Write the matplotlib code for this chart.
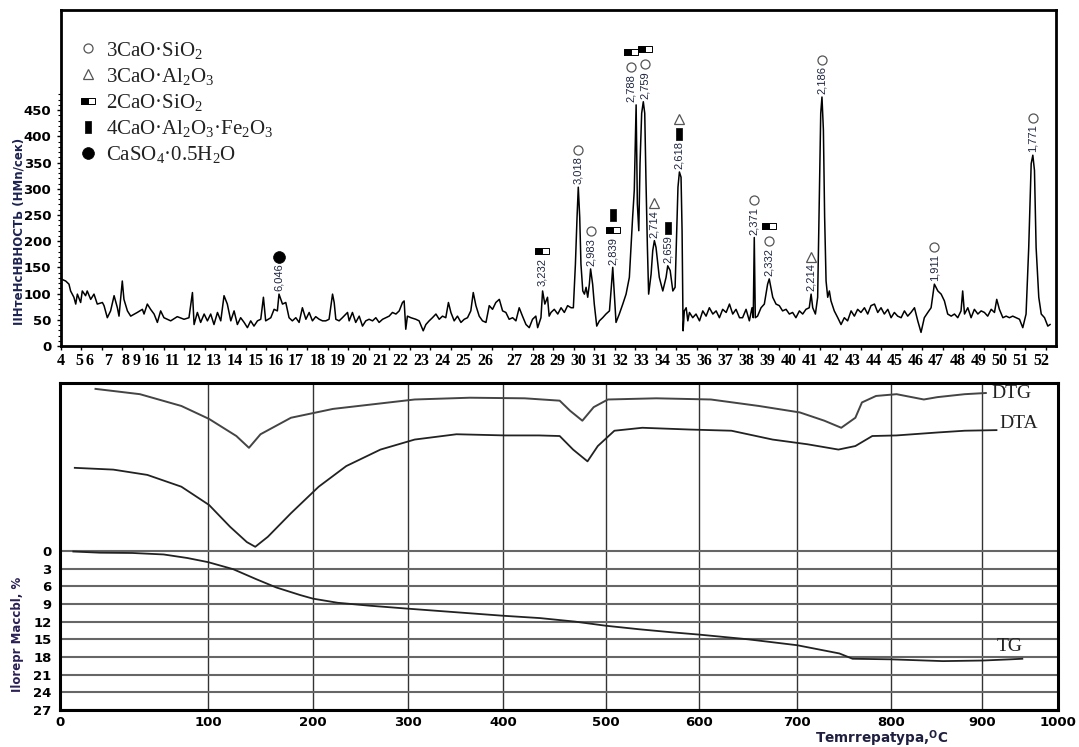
import numpy as np
import matplotlib
matplotlib.use('Agg')
import matplotlib.pyplot as plt
from matplotlib.lines import Line2D
from matplotlib.ticker import FixedLocator
from matplotlib.transforms import offset_copy

plt.rcParams['font.family'] = ['DejaVu Sans']
plt.rcParams['mathtext.fontset'] = 'custom'
plt.rcParams['mathtext.rm'] = 'Liberation Serif'
plt.rcParams['mathtext.it'] = 'Liberation Serif:italic'
plt.rcParams['mathtext.bf'] = 'DejaVu Sans:bold'

# ---------------- XRD pattern ----------------
xrd_2theta = [
    4.00, 4.23, 4.39, 4.47, 4.63, 4.72, 4.80, 4.96, 5.04, 5.20, 5.28, 5.45, 5.61, 5.77,
    6.02, 6.10, 6.26, 6.42, 6.59, 6.75, 6.83, 6.99, 7.07, 7.24, 7.40, 7.72, 7.97, 8.05,
    8.21, 8.37, 8.54, 8.70, 8.86, 9.02, 9.35, 9.67, 10.00, 10.24, 10.41, 10.49, 10.65,
    10.81, 10.98, 11.14, 11.30, 11.46, 11.63, 11.79, 11.95, 12.11, 12.28, 12.44, 12.60,
    12.76, 12.93, 13.09, 13.25, 13.41, 13.58, 13.74, 13.87, 13.98, 14.23, 14.39, 14.55,
    14.63, 14.80, 14.96, 15.12, 15.28, 15.45, 15.61, 15.77,
    15.94, 16.10, 16.26, 16.42, 16.59, 16.75, 16.91, 17.07, 17.24, 17.32, 17.40, 17.56,
    17.72, 17.97, 18.05, 18.21, 18.37, 18.54, 18.70, 18.86, 19.02, 19.19, 19.35, 19.51,
    19.68, 19.84, 20.00, 20.16, 20.33, 20.49, 20.65, 20.73, 20.81, 20.89, 21.06, 21.30,
    21.46, 21.66, 21.79, 21.95, 22.11, 22.28, 22.44, 22.60, 22.76, 22.89, 23.01, 23.17,
    23.33, 23.50, 23.66, 23.82, 23.98, 24.10, 24.23, 24.39, 24.55, 24.72, 24.88, 25.04,
    25.20, 25.37, 25.53, 25.69, 25.85, 26.02, 26.18, 26.34, 26.50, 26.67, 26.83, 26.99,
    27.15, 27.24, 27.40, 27.48, 27.59, 27.72, 27.80,
    27.89, 28.05, 28.22, 28.38, 28.54, 28.70, 28.87, 28.98, 29.08, 29.16, 29.22, 29.29,
    29.35, 29.44, 29.52, 29.60, 29.68, 29.76, 29.82, 29.92, 30.00, 30.12, 30.25, 30.41,
    30.57, 30.74, 30.83, 30.90, 30.98, 31.06, 31.22, 31.39, 31.55, 31.71, 31.87, 31.95,
    32.04, 32.10, 32.17, 32.23, 32.31, 32.39, 32.46, 32.52, 32.59, 32.65, 32.77, 32.85,
    32.93, 33.01, 33.17, 33.34, 33.50, 33.58, 33.70, 33.83, 33.94, 34.02, 34.08, 34.15,
    34.23, 34.28, 34.33, 34.39, 34.48, 34.56, 34.64, 34.80, 34.96, 35.13, 35.29, 35.45,
    35.61, 35.78, 35.94, 36.10, 36.26, 36.43, 36.59, 36.75, 36.91, 37.08,
    37.23, 37.40, 37.56, 37.69, 37.75, 37.80, 37.85, 37.96, 38.13, 38.29, 38.45, 38.53,
    38.61, 38.70, 38.86, 39.02, 39.18, 39.35, 39.51, 39.67, 39.83, 40.00, 40.16, 40.32,
    40.48, 40.57, 40.65, 40.78, 40.89, 40.97, 41.04, 41.10, 41.17, 41.23, 41.30, 41.38,
    41.46, 41.54, 41.70, 41.87, 42.03, 42.19, 42.35, 42.52, 42.68, 42.84, 43.00, 43.17,
    43.33, 43.49, 43.66, 43.82, 43.98, 44.14, 44.31, 44.47, 44.63, 44.79, 44.96, 45.12,
    45.28, 45.44, 45.61, 45.77, 45.93, 46.09, 46.26, 46.42, 46.58, 46.75, 46.91, 47.07,
    47.23, 47.40, 47.56, 47.72, 47.88, 47.96, 48.05, 48.21, 48.37, 48.53, 48.70, 48.86,
    49.02, 49.18, 49.35, 49.51, 49.62, 49.75, 49.92, 50.08, 50.24, 50.40, 50.57, 50.73,
    50.89, 51.05, 51.18, 51.30, 51.38, 51.46, 51.54, 51.67, 51.79, 51.95, 52.11, 52.22,
]
xrd_intensity = [
    128, 124, 118, 105, 93, 80, 99, 83, 105, 96, 105, 89, 99, 80,
    83, 77, 54, 67, 96, 73, 57, 124, 89, 67, 57, 64, 70, 61,
    80, 70, 61, 45, 67, 54, 48, 56, 51, 54, 102, 41, 64,
    45, 61, 48, 61, 41, 64, 48, 96, 80, 48, 67, 41,
    54, 45, 35, 48, 38, 48, 51, 93, 48, 54, 70, 67,
    99, 80, 83, 54, 48, 54, 45, 73,
    51, 64, 48, 56, 51, 48, 48, 51, 99, 83, 51, 48,
    54, 64, 48, 64, 45, 57, 38, 48, 51, 48, 54, 45,
    51, 54, 57, 64, 61, 67, 83, 86, 32, 57, 54, 51,
    48, 29, 41, 48, 54, 61, 51, 57, 54, 83, 64, 48,
    57, 45, 51, 54, 67, 102, 77, 57, 48, 45, 77, 70,
    83, 89, 67, 64, 51, 54, 48, 73, 57, 41, 35, 51,
    57, 35, 54, 105, 80, 93, 57,
    64, 70, 61, 73, 64, 77, 73, 73, 156, 246, 303, 246,
    156, 105, 99, 112, 93, 118, 147, 118, 80, 38, 48, 54,
    61, 67, 112, 150, 99, 45, 61, 80, 99, 131, 246, 297,
    460, 271, 220, 348, 444, 466, 444, 316, 188, 99, 137, 182,
    201, 188, 131, 105, 131, 153, 144, 105, 112, 220, 303, 332,
    322, 220, 29, 67, 73, 48, 64, 54, 61, 48, 67, 57,
    73, 61, 67, 54, 70, 64, 80, 61, 70, 54,
    54, 70, 48, 73, 54, 207, 54, 57, 73, 80, 118, 128,
    112, 93, 80, 77, 67, 70, 61, 64, 54, 67, 61, 70,
    73, 99, 73, 61, 93, 284, 444, 475, 412, 246, 124, 93,
    105, 86, 67, 54, 41, 54, 48, 67, 57, 70, 64, 73,
    61, 77, 80, 64, 73, 61, 70, 54, 64, 57, 54, 67,
    57, 64, 73, 48, 26, 54, 64, 73, 118, 105, 99, 86,
    61, 57, 61, 54, 67, 105, 61, 73, 54, 70, 61, 67,
    64, 57, 70, 64, 89, 70, 54, 57, 54, 57, 54, 51,
    35, 61, 188, 348, 364, 335, 188, 93, 61, 54, 38, 41,
]

# annotated reflections: position, top of peak, d-spacing, phases
peak_2theta = [14.63, 27.43, 29.22, 29.82, 30.90, 32.04, 32.39, 32.93,
               33.58, 34.15, 37.80, 38.53, 40.57, 41.10, 46.58, 51.38]
peak_height = [99, 109, 303, 147, 150, 460, 466, 201,
               153, 332, 207, 128, 99, 475, 118, 364]
peak_d = ['6,046', '3,232', '3,018', '2,983', '2,839', '2,788', '2,759', '2,714',
          '2,659', '2,618', '2,371', '2,332', '2,214', '2,186', '1,911', '1,771']
peak_phases = [['CS'], ['C2S'], ['C3S'], ['C3S'], ['C2S', 'C4AF'], ['C3S', 'C2S'],
               ['C3S', 'C2S'], ['C3A'], ['C4AF'], ['C4AF', 'C3A'], ['C3S'],
               ['C3S', 'C2S'], ['C3A'], ['C3S'], ['C3S'], ['C3S']]
# sideways nudge of the two crowded labels (points)
peak_label_dx = [0, 0, 0, 0, 0, -3.5, 1.5, 0, 0, 0, 0, 0, 0, 0, 0, 0]

phase_keys = ['C3S', 'C3A', 'C2S', 'C4AF', 'CS']
phase_names = ['3CaO·SiO$_2$', '3CaO·Al$_2$O$_3$', '2CaO·SiO$_2$',
               '4CaO·Al$_2$O$_3$·Fe$_2$O$_3$', 'CaSO$_4$·0.5H$_2$O']

xrd_tick_labels = ['4', '5', '6', '7', '8', '9', '16'] + [str(v) for v in range(11, 53)]
# where the labels sit under the axis in the original
xrd_label_pos = [4.0, 4.88, 5.41, 6.29, 7.17, 7.71, 8.44, 9.41, 10.46, 11.46, 12.46,
                 13.49, 14.49, 15.46, 16.51, 17.51, 18.54, 19.56, 20.54, 21.56, 22.59,
                 23.61, 24.68, 26.10, 27.22, 28.20, 29.22, 30.24, 31.27, 32.29, 33.32,
                 34.34, 35.37, 36.39, 37.41, 38.44, 39.46, 40.49, 41.56, 42.59, 43.61,
                 44.63, 45.66, 46.63, 47.71, 48.73, 49.76, 50.78, 51.80]

# ---------------- thermal analysis ----------------
temp_ticks = [0, 100, 200, 300, 400, 500, 600, 700, 800, 900, 1000]
# the temperature axis of the original is not evenly spaced
temp_grid_frac = [0, 0.1483, 0.2535, 0.3487, 0.4439, 0.5471, 0.6403, 0.7385,
                  0.8327, 0.9238, 1.0]

tg_temp = [9, 27, 49, 70, 86, 100, 124, 146, 165, 188, 200, 226, 260, 300, 350, 400,
           436, 470, 500, 536, 570, 600, 650, 700, 745, 759, 800, 857, 901, 937, 953]
tg_loss = [0.1, 0.3, 0.35, 0.6, 1.2, 1.9, 3.1, 4.8, 6.2, 7.5, 8.1, 8.8, 9.3, 9.8, 10.4,
           11.0, 11.4, 12.0, 12.7, 13.3, 13.8, 14.2, 15.0, 16.0, 17.4, 18.3, 18.4, 18.7,
           18.6, 18.4, 18.3]

dtg_temp = [24, 54, 82, 101, 127, 139, 150, 179, 221, 264, 307, 365, 421, 455, 465, 477,
            488, 502, 554, 612, 661, 703, 729, 747, 762, 769, 784, 806, 836, 851, 881, 905]
dtg_level = [-27.5, -26.6, -24.6, -22.4, -19.5, -17.5, -19.8, -22.6, -24.1, -24.9, -25.7,
             -26.0, -25.9, -25.5, -23.8, -22.1, -24.4, -25.7, -25.9, -25.7, -24.6, -23.5,
             -22.1, -20.9, -22.6, -25.2, -26.3, -26.6, -25.7, -26.1, -26.6, -26.8]

dta_temp = [10, 36, 59, 82, 101, 121, 137, 145, 157, 179, 206, 235, 271, 307, 351, 402,
            435, 455, 468, 482, 492, 509, 539, 590, 633, 675, 711, 744, 762, 780, 806,
            851, 881, 919]
dta_level = [-14.1, -13.8, -12.9, -10.9, -7.8, -4.1, -1.5, -0.7, -2.4, -6.4, -10.9, -14.4,
             -17.2, -18.9, -19.8, -19.6, -19.6, -19.5, -17.2, -15.2, -17.8, -20.4, -20.9,
             -20.6, -20.4, -18.9, -18.1, -17.2, -17.8, -19.5, -19.6, -20.1, -20.4, -20.5]

loss_ticks = list(range(0, 28, 3))

# ---------------- symbols ----------------
HALF_L = [(-1, -0.5), (0, -0.5), (0, 0.5), (-1, 0.5), (-1, -0.5)]
HALF_R = [(0, -0.5), (1, -0.5), (1, 0.5), (0, 0.5), (0, -0.5)]
BAR = [(-0.5, -1), (0.5, -1), (0.5, 1), (-0.5, 1), (-0.5, -1)]
phase_style = {
    'C3S': [dict(marker='o', ms=6.5, mfc='white', mec='#555555', mew=0.9)],
    'C3A': [dict(marker='^', ms=7, mfc='white', mec='#555555', mew=0.9)],
    'C2S': [dict(marker=HALF_L, ms=10, mfc='black', mec='black', mew=0.7),
            dict(marker=HALF_R, ms=10, mfc='white', mec='black', mew=0.7)],
    'C4AF': [dict(marker=BAR, ms=9, mfc='black', mec='black', mew=0.5)],
    'CS': [dict(marker='o', ms=8.5, mfc='black', mec='black', mew=0.5)],
}

fig = plt.figure(figsize=(10.79, 7.47), dpi=100)

# ======== top panel: XRD ========
ax = fig.add_axes([0.0565, 0.5368, 0.922, 0.4498])
ax.plot(xrd_2theta, xrd_intensity, color='black', lw=1.1)
ax.set_xlim(4, 52.5)
ax.set_ylim(0, 641)

for x, h, d, phs, dx in zip(peak_2theta, peak_height, peak_d, peak_phases, peak_label_dx):
    ax.annotate(d, xy=(x, h), xytext=(dx, 2), textcoords='offset points', rotation=90,
                ha='center', va='bottom', fontsize=8, family='Liberation Sans',
                color='#1e2540')
    for k, ph in enumerate(phs):
        tr = offset_copy(ax.transData, fig=fig, x=dx, y=27 + 11 * k, units='points')
        for st in phase_style[ph]:
            ax.plot([x], [h], transform=tr, ls='none', clip_on=False, **st)

handles = []
for key in phase_keys:
    lines = tuple(Line2D([], [], ls='none', **st) for st in phase_style[key])
    handles.append(lines if len(lines) > 1 else lines[0])
ax.legend(handles, phase_names, loc='upper left', bbox_to_anchor=(0.017, 0.912),
          frameon=False, borderpad=0, borderaxespad=0, handlelength=1.0,
          handletextpad=0.35, labelspacing=0.25,
          prop={'family': 'Liberation Serif', 'size': 15}, labelcolor='#222222')

ax.set_xticks(range(4, 53))
ax.set_xticklabels([])
ax.set_xticks(xrd_label_pos, labels=xrd_tick_labels, minor=True)
ax.xaxis.remove_overlapping_locs = False
ax.tick_params(axis='x', which='major', direction='out', length=3, width=1)
ax.tick_params(axis='x', which='minor', length=0, pad=5)
for lab in ax.get_xticklabels(minor=True):
    lab.set_fontfamily('Liberation Serif')
    lab.set_fontweight('bold')
    lab.set_fontsize(11.5)

ax.set_yticks(range(0, 451, 50))
ax.yaxis.set_minor_locator(FixedLocator(range(0, 490, 10)))
ax.tick_params(axis='y', which='major', direction='out', length=3, width=1, pad=4,
               labelsize=9.5)
ax.tick_params(axis='y', which='minor', direction='out', length=2, width=0.8)
for lab in ax.get_yticklabels():
    lab.set_fontweight('bold')
for s in ax.spines.values():
    s.set_linewidth(2.0)

fig.text(19 / 1079, 1 - 231 / 747, 'IIНтеНсНВНОСТЬ (НМn/сек)', rotation=90,
         ha='center', va='center', fontsize=8.5, fontweight='bold', color='#1c2350')


# ======== bottom panel: DTA / DTG / TG ========
def to_frac(t):
    t = np.asarray(t, dtype=float)
    return np.interp(t.ravel(), temp_ticks, temp_grid_frac).reshape(t.shape)


def from_frac(f):
    f = np.asarray(f, dtype=float)
    return np.interp(f.ravel(), temp_grid_frac, temp_ticks).reshape(f.shape)


ax2 = fig.add_axes([0.0556, 0.0495, 0.925, 0.4378])
ax2.set_xscale('function', functions=(to_frac, from_frac))
ax2.set_xlim(0, 1000)
ax2.set_ylim(27, -28.5)
ax2.set_xticks(temp_ticks)
ax2.set_xticklabels([str(t) for t in temp_ticks])
ax2.set_yticks(loss_ticks)
ax2.set_yticklabels([str(v) for v in loss_ticks])
ax2.grid(axis='x', color='#333333', lw=1.0)
ax2.grid(axis='y', color='#666666', lw=1.5)
ax2.set_axisbelow(True)
ax2.tick_params(axis='x', length=0, pad=4, labelsize=9.5)
ax2.tick_params(axis='y', length=0, pad=6, labelsize=9.5)
for lab in ax2.get_xticklabels() + ax2.get_yticklabels():
    lab.set_fontweight('bold')
for s in ax2.spines.values():
    s.set_linewidth(2.2)

ax2.plot(dtg_temp, dtg_level, color='#444444', lw=1.4)
ax2.plot(dta_temp, dta_level, color='#222222', lw=1.3)
ax2.plot(tg_temp, tg_loss, color='#222222', lw=1.3)

lab_font = dict(family='Liberation Serif', fontsize=14, color='#222222')
ax2.annotate('DTG', xy=(dtg_temp[-1], dtg_level[-1]), xytext=(4, 0),
             textcoords='offset points', ha='left', va='center', **lab_font)
ax2.annotate('DTA', xy=(dta_temp[-1], dta_level[-1]), xytext=(2, 5),
             textcoords='offset points', ha='left', va='center', **lab_font)
ax2.annotate('TG', xy=(tg_temp[-1], tg_loss[-1]), xytext=(0, 3),
             textcoords='offset points', ha='right', va='bottom', **lab_font)

fig.text(18 / 1079, 1 - 634 / 747, 'Ilorepr Maccbl, %', rotation=90, ha='center',
         va='center', fontsize=8.5, fontweight='bold', color='#2b1f55')
fig.text(882 / 1079, 1 - 738.5 / 747, r'Temrrepatypa,$^{\mathbf{O}}$C', ha='center',
         va='center', fontsize=9.8, fontweight='bold', color='#1f1f40')

fig.savefig('out.png', dpi=100)
